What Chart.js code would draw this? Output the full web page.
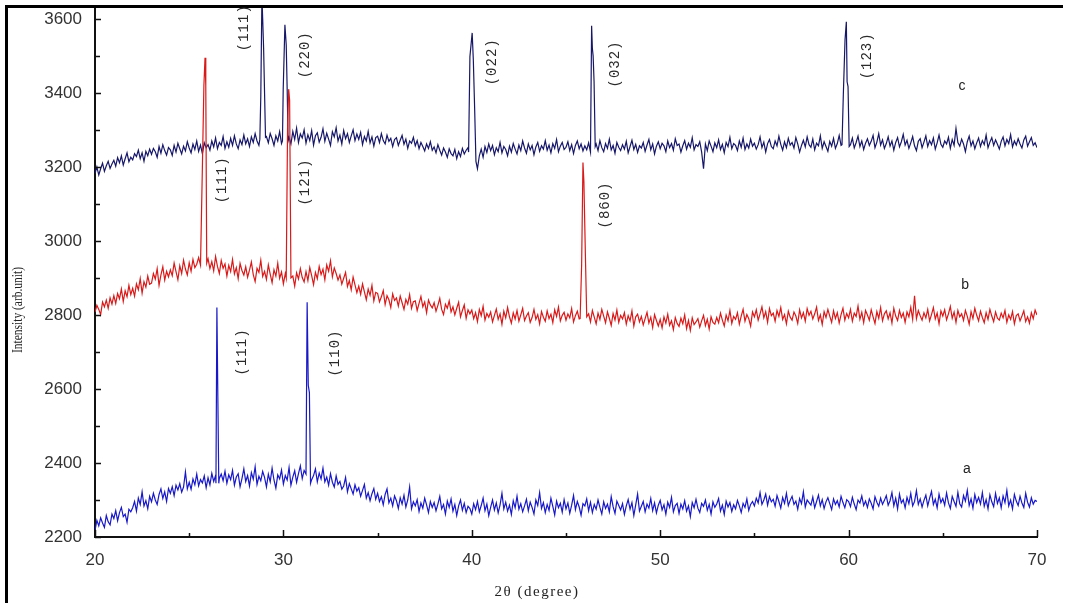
<!DOCTYPE html>
<html><head><meta charset="utf-8">
<script src="https://cdn.jsdelivr.net/npm/chart.js@4.4.0/dist/chart.umd.min.js"></script>
<style>html,body{margin:0;padding:0;background:#fff;overflow:hidden}canvas{display:block}</style>
</head><body>
<canvas id="c" width="1065" height="603"></canvas>
<script>
// 2θ scan grid (degrees)
const thetaStart = 20, thetaStep = 0.1;

// axis ticks
const xTicks = [20, 30, 40, 50, 60, 70];
const xMinorTicks = [25, 35, 45, 55, 65];
const yTicks = [2200, 2400, 2600, 2800, 3000, 3200, 3400, 3600];
const yMinorTicks = [2300, 2500, 2700, 2900, 3100, 3300, 3500];

// sample a (blue), one row per degree, 0.1° steps
const seriesA = [
2218,2245,2230,2252,2238,2226,2258,2241,2233,2262,
2250,2271,2244,2266,2280,2255,2262,2240,2275,2268,
2279,2296,2270,2305,2288,2322,2284,2298,2276,2310,
2295,2318,2300,2288,2315,2330,2304,2322,2296,2331,
2318,2336,2312,2340,2327,2344,2321,2335,2376,2330,
2348,2329,2357,2341,2370,2338,2355,2346,2365,2333,
2360,2341,2372,2350,2366,2348,2358,2370,2352,2378,
2345,2368,2355,2380,2340,2362,2371,2336,2358,2384,
2350,2366,2338,2374,2356,2390,2342,2364,2352,2377,
2361,2335,2370,2349,2386,2354,2332,2368,2357,2381,
2343,2366,2354,2388,2340,2362,2379,2348,2371,2392,
2358,2380,2365,2390,2372,2355,2366,2384,2349,2373,
2357,2386,2349,2362,2340,2371,2348,2335,2365,2342,
2350,2329,2338,2361,2322,2344,2330,2316,2341,2324,
2333,2310,2326,2342,2305,2320,2298,2317,2331,2302,
2318,2296,2309,2287,2315,2330,2292,2305,2284,2311,
2298,2277,2306,2289,2313,2281,2300,2335,2276,2295,
2284,2301,2269,2292,2278,2305,2287,2266,2296,2280,
2293,2271,2289,2310,2276,2288,2262,2297,2280,2303,
2270,2288,2258,2284,2300,2272,2291,2266,2283,2277,
2262,2290,2274,2296,2268,2285,2305,2271,2289,2258,
2280,2300,2273,2292,2265,2287,2318,2276,2294,2270,
2286,2261,2298,2279,2310,2275,2290,2268,2284,2302,
2271,2294,2280,2262,2300,2285,2320,2277,2293,2266,
2288,2272,2305,2283,2260,2297,2279,2291,2267,2301,
2276,2292,2264,2286,2312,2274,2296,2281,2259,2290,
2284,2303,2271,2294,2266,2288,2275,2300,2280,2262,
2295,2277,2289,2268,2309,2282,2264,2297,2285,2273,
2290,2261,2284,2301,2275,2293,2258,2287,2316,2270,
2283,2296,2268,2289,2278,2304,2271,2292,2265,2286,
2299,2273,2287,2262,2294,2280,2307,2268,2285,2291,
2264,2289,2276,2298,2270,2284,2255,2293,2279,2302,
2278,2266,2291,2283,2300,2272,2288,2262,2295,2280,
2289,2304,2270,2286,2261,2297,2281,2293,2269,2287,
2276,2299,2284,2266,2291,2280,2303,2272,2288,2296,
2284,2305,2292,2320,2288,2300,2316,2286,2309,2295,
2302,2283,2312,2296,2278,2307,2291,2318,2285,2299,
2310,2288,2297,2275,2304,2290,2322,2281,2300,2293,
2286,2308,2279,2296,2313,2284,2301,2277,2295,2306,
2290,2274,2303,2288,2298,2281,2310,2293,2279,2301,
2296,2282,2307,2289,2274,2300,2292,2311,2285,2297,
2280,2303,2291,2276,2309,2294,2283,2305,2288,2299,
2312,2286,2298,2320,2284,2305,2276,2316,2292,2301,
2279,2307,2290,2318,2284,2296,2325,2288,2303,2281,
2299,2313,2284,2305,2323,2288,2302,2279,2316,2293,
2304,2286,2319,2292,2277,2310,2296,2283,2321,2290,
2281,2312,2297,2326,2285,2303,2278,2315,2293,2307,
2289,2320,2283,2301,2276,2314,2295,2282,2318,2291,
2306,2279,2311,2293,2326,2284,2300,2276,2315,2297,
2285,2310,2292,2280,2318,2294,2281,2306,2289,2299,
2296];

// sample b (red)
const seriesB = [
2808,2826,2815,2801,2835,2822,2840,2818,2846,2829,
2852,2831,2858,2844,2870,2836,2865,2849,2880,2855,
2872,2851,2884,2868,2898,2859,2890,2875,2905,2883,
2886,2912,2897,2925,2880,2908,2930,2894,2918,2903,
2922,2906,2940,2917,2895,2933,2912,2948,2924,2908,
2941,2918,2950,2928,2937,2955,2925,2946,2933,2940,
2952,2925,2944,2919,2958,2931,2912,2947,2926,2938,
2905,2934,2917,2950,2911,2928,2898,2939,2920,2908,
2930,2902,2921,2943,2909,2890,2926,2915,2948,2904,
2918,2896,2935,2910,2887,2922,2905,2940,2899,2916,
2884,2912,2895,2920,2890,2905,2878,2914,2897,2925,
2901,2889,2917,2893,2928,2906,2882,2915,2898,2931,
2909,2924,2895,2935,2918,2946,2903,2927,2912,2894,
2908,2883,2899,2915,2877,2893,2868,2902,2881,2860,
2878,2856,2884,2862,2841,2870,2853,2880,2838,2861,
2858,2835,2849,2866,2828,2852,2841,2820,2857,2839,
2846,2824,2851,2833,2815,2842,2829,2855,2818,2836,
2838,2812,2831,2850,2822,2835,2806,2840,2827,2819,
2833,2810,2826,2845,2815,2801,2829,2818,2838,2808,
2822,2800,2818,2834,2795,2812,2827,2791,2814,2803,
2813,2790,2806,2782,2815,2798,2823,2786,2804,2794,
2808,2781,2799,2816,2788,2803,2775,2810,2792,2820,
2795,2778,2806,2789,2812,2783,2800,2818,2785,2797,
2806,2780,2793,2815,2788,2801,2776,2809,2794,2783,
2811,2790,2802,2779,2814,2796,2821,2784,2799,2807,
2786,2803,2792,2817,2781,2798,2810,2789,2800,2795,
2790,2800,2803,2781,2812,2794,2776,2805,2788,2815,
2797,2779,2808,2791,2772,2804,2786,2813,2780,2799,
2789,2806,2775,2798,2784,2811,2770,2795,2802,2781,
2796,2773,2790,2807,2778,2794,2766,2801,2785,2770,
2788,2765,2795,2778,2802,2772,2784,2760,2793,2777,
2769,2791,2776,2800,2763,2785,2758,2792,2774,2781,
2790,2767,2784,2799,2771,2788,2762,2795,2780,2775,
2793,2779,2805,2786,2770,2800,2784,2812,2777,2796,
2788,2806,2775,2797,2815,2783,2801,2790,2770,2808,
2795,2814,2786,2803,2822,2792,2809,2780,2817,2798,
2805,2783,2812,2796,2820,2788,2801,2776,2810,2794,
2786,2808,2797,2777,2814,2792,2806,2783,2817,2799,
2810,2789,2803,2821,2785,2800,2774,2809,2793,2815,
2797,2780,2811,2790,2806,2778,2801,2818,2786,2804,
2792,2815,2783,2805,2796,2824,2788,2807,2779,2812,
2800,2786,2814,2795,2777,2809,2791,2820,2784,2803,
2811,2789,2806,2778,2818,2797,2785,2812,2793,2805,
2780,2808,2795,2821,2788,2852,2790,2812,2798,2786,
2806,2792,2815,2784,2801,2820,2789,2805,2776,2811,
2797,2814,2787,2803,2823,2791,2808,2780,2812,2795,
2803,2785,2812,2796,2775,2809,2790,2818,2799,2784,
2810,2793,2779,2806,2788,2815,2797,2782,2808,2791,
2786,2805,2792,2812,2780,2800,2788,2809,2776,2798,
2803,2784,2797,2811,2782,2795,2778,2806,2790,2813,
2800];

// sample c (navy)
const seriesC = [
3182,3200,3178,3195,3210,3188,3203,3215,3196,3208,
3218,3202,3225,3211,3230,3205,3222,3238,3214,3226,
3219,3236,3228,3245,3222,3238,3215,3242,3230,3248,
3234,3250,3241,3226,3255,3237,3260,3244,3232,3252,
3246,3231,3258,3240,3264,3249,3235,3256,3243,3268,
3251,3238,3262,3247,3270,3242,3259,3236,3265,3252,
3260,3245,3270,3254,3278,3249,3266,3258,3282,3250,
3268,3253,3277,3258,3284,3262,3249,3273,3260,3286,
3262,3276,3255,3281,3266,3290,3270,3258,3275,3280,
3270,3282,3265,3290,3276,3258,3284,3270,3295,3263,
3277,3288,3268,3280,3262,3296,3274,3305,3266,3289,
3278,3300,3264,3287,3271,3298,3259,3284,3292,3267,
3280,3303,3269,3291,3275,3258,3295,3281,3306,3270,
3286,3262,3298,3276,3290,3266,3284,3300,3271,3289,
3274,3293,3260,3282,3270,3296,3265,3281,3256,3279,
3283,3266,3290,3271,3262,3286,3269,3277,3255,3274,
3279,3258,3272,3285,3261,3275,3250,3270,3264,3280,
3257,3271,3249,3266,3255,3243,3262,3250,3268,3245,
3254,3238,3260,3245,3232,3251,3240,3226,3249,3236,
3230,3247,3222,3241,3228,3250,3235,3245,3252,3240,
3240,3245,3250,3235,3230,3248,3226,3255,3239,3262,
3244,3258,3233,3252,3241,3266,3238,3255,3247,3230,
3256,3240,3263,3248,3235,3259,3244,3270,3251,3237,
3262,3246,3258,3233,3254,3266,3242,3257,3248,3271,
3245,3259,3238,3263,3250,3274,3241,3256,3266,3247,
3253,3268,3244,3260,3236,3258,3270,3249,3262,3243,
3257,3246,3265,3240,3250,3245,3262,3244,3271,3252,
3241,3263,3250,3275,3246,3258,3237,3266,3253,3244,
3260,3248,3269,3238,3255,3272,3247,3261,3239,3257,
3251,3266,3242,3259,3274,3246,3262,3235,3256,3268,
3249,3264,3257,3241,3270,3252,3263,3245,3276,3258,
3262,3240,3257,3271,3248,3264,3253,3279,3246,3260,
3255,3268,3240,3195,3262,3244,3270,3256,3241,3265,
3252,3273,3247,3261,3238,3266,3255,3280,3249,3263,
3258,3244,3270,3253,3278,3247,3262,3251,3275,3256,
3264,3248,3260,3281,3252,3267,3240,3263,3274,3255,
3249,3270,3257,3283,3261,3245,3268,3252,3277,3259,
3266,3251,3279,3262,3240,3258,3272,3254,3281,3260,
3253,3275,3246,3264,3257,3284,3250,3268,3255,3242,
3269,3256,3277,3250,3263,3285,3258,3266,3262,3270,
3262,3260,3278,3251,3266,3283,3255,3270,3247,3264,
3276,3258,3269,3285,3252,3267,3290,3259,3273,3250,
3263,3281,3256,3270,3245,3266,3279,3254,3268,3288,
3259,3272,3250,3265,3282,3257,3244,3269,3276,3252,
3267,3284,3255,3271,3260,3278,3248,3265,3286,3261,
3253,3270,3262,3280,3250,3274,3258,3304,3266,3256,
3275,3262,3241,3268,3283,3257,3270,3249,3265,3278,
3255,3271,3260,3286,3252,3267,3279,3258,3273,3261,
3248,3269,3281,3257,3274,3263,3287,3254,3270,3259,
3276,3262,3251,3273,3283,3256,3268,3279,3258,3265,
3252];

// diffraction peaks: [2θ, intensity] samples across each peak
const peaksA = [
  [[26.42,2345],[26.47,2820],[26.52,2580],[26.57,2345]],
  [[31.2,2370],[31.26,2834],[31.32,2610],[31.38,2590],[31.44,2345]]
];
const peaksB = [
  [[25.6,2935],[25.7,3200],[25.78,3420],[25.84,3495],[25.88,3420],[25.93,2940]],
  [[30.15,2900],[30.22,3300],[30.28,3410],[30.33,3380],[30.4,2900]],
  [[45.75,2790],[45.83,2935],[45.9,3212],[45.95,3160],[46.03,2960],[46.1,2795]]
];
const peaksC = [
  [[28.75,3275],[28.8,3390],[28.86,3660],[28.9,3600],[28.95,3520],[29.0,3400],[29.05,3280]],
  [[29.95,3270],[29.99,3410],[30.08,3584],[30.15,3530],[30.2,3410],[30.25,3270]],
  [[39.83,3240],[39.9,3498],[40.02,3562],[40.08,3490],[40.15,3360],[40.22,3215],[40.3,3195]],
  [[46.3,3240],[46.36,3581],[46.4,3520],[46.44,3500],[46.49,3430],[46.55,3255]],
  [[59.65,3260],[59.72,3395],[59.81,3543],[59.88,3592],[59.92,3430],[59.97,3417],[60.03,3255]]
];

// peak labels (Miller indices) and sample letters
const peakLabelText = ['(111)','(220)','(022)','(032)','(123)','(111)','(121)','(860)','(111)','(110)'];
const peakLabelTheta = [27.91, 31.15, 41.07, 47.60, 60.98, 26.74, 31.15, 47.07, 27.80, 32.74];
const peakLabelIntensity = [3576, 3503, 3484, 3478, 3500, 3165, 3159, 3097, 2700, 2697];
const sampleNames = ['a','b','c'];
const sampleLabelTheta = [66.28, 66.18, 66.02];
const sampleLabelIntensity = [2384, 2881, 3419];

function buildSeries(values, peaks) {
  const out = [];
  values.forEach((v, i) => {
    const x = Math.round((thetaStart + i * thetaStep) * 1000) / 1000;
    if (peaks.some(p => x >= p[0][0] - 1e-9 && x <= p[p.length - 1][0] + 1e-9)) return;
    out.push({x: x, y: v});
  });
  peaks.forEach(p => p.forEach(([x, y]) => out.push({x: x, y: y})));
  out.sort((a, b) => a.x - b.x);
  return out;
}

const decor = {
  id: 'decor',
  afterDraw(chart) {
    const ctx = chart.ctx;
    const xs = chart.scales.x, ys = chart.scales.y;
    const ca = chart.chartArea;
    ctx.save();
    // frame (top & left)
    ctx.strokeStyle = '#000';
    ctx.lineWidth = 3;
    ctx.beginPath();
    ctx.moveTo(5, 6.5); ctx.lineTo(1063, 6.5);
    ctx.moveTo(6.5, 5); ctx.lineTo(6.5, 603);
    ctx.stroke();
    // inward tick marks
    ctx.lineWidth = 1.5;
    ctx.strokeStyle = '#111';
    ctx.beginPath();
    yTicks.forEach(v => { const p = Math.round(ys.getPixelForValue(v)) + 0.5; ctx.moveTo(ca.left, p); ctx.lineTo(ca.left + 6, p); });
    yMinorTicks.forEach(v => { const p = Math.round(ys.getPixelForValue(v)) + 0.5; ctx.moveTo(ca.left, p); ctx.lineTo(ca.left + 5, p); });
    xTicks.forEach(v => { const p = Math.round(xs.getPixelForValue(v)) + 0.5; ctx.moveTo(p, ca.bottom); ctx.lineTo(p, ca.bottom - 7); });
    xMinorTicks.forEach(v => { const p = Math.round(xs.getPixelForValue(v)) + 0.5; ctx.moveTo(p, ca.bottom); ctx.lineTo(p, ca.bottom - 4); });
    ctx.stroke();
    // axis titles
    ctx.fillStyle = '#222';
    ctx.textAlign = 'center';
    ctx.textBaseline = 'middle';
    ctx.font = '14px "Liberation Serif", serif';
    ctx.save();
    ctx.translate(18, 310);
    ctx.rotate(-Math.PI / 2);
    ctx.scale(0.82, 1);
    ctx.fillText('Intensity (arb.unit)', 0, 0);
    ctx.restore();
    ctx.font = '15px "Liberation Serif", serif';
    ctx.letterSpacing = '1.5px';
    ctx.fillText('2θ (degree)', 537, 592);
    // peak labels
    ctx.font = '14px "Liberation Mono", monospace';
    ctx.letterSpacing = '1px';
    ctx.fillStyle = '#2a2a2a';
    peakLabelText.forEach((t, i) => {
      const px = xs.getPixelForValue(peakLabelTheta[i]);
      const py = ys.getPixelForValue(peakLabelIntensity[i]);
      ctx.save();
      ctx.translate(px, py);
      ctx.rotate(-Math.PI / 2);
      ctx.fillText(t, 0, 0);
      ctx.restore();
    });
    // sample letters
    ctx.letterSpacing = '0px';
    ctx.font = '14px "Liberation Sans", sans-serif';
    ctx.fillStyle = '#222';
    sampleNames.forEach((n, i) => {
      ctx.fillText(n, xs.getPixelForValue(sampleLabelTheta[i]), ys.getPixelForValue(sampleLabelIntensity[i]));
    });
    ctx.restore();
  }
};

const tickFont = {family: '"Liberation Sans", sans-serif', size: 17};

new Chart(document.getElementById('c'), {
  type: 'line',
  data: {
    datasets: [
      {label: 'a', data: buildSeries(seriesA, peaksA), borderColor: '#1818c8', borderWidth: 1.2},
      {label: 'b', data: buildSeries(seriesB, peaksB), borderColor: '#d81a1a', borderWidth: 1.2},
      {label: 'c', data: buildSeries(seriesC, peaksC), borderColor: '#17176a', borderWidth: 1.2}
    ]
  },
  options: {
    responsive: false,
    animation: false,
    devicePixelRatio: 1,
    layout: {padding: {left: 0, right: 28, top: 7, bottom: 0}},
    elements: {point: {radius: 0}, line: {tension: 0}},
    plugins: {legend: {display: false}, tooltip: {enabled: false}},
    scales: {
      x: {
        type: 'linear', min: 20, max: 70,
        afterBuildTicks: s => { s.ticks = xTicks.map(v => ({value: v})); },
        afterFit: s => { s.height = 66; s.paddingLeft = 0; s.paddingRight = 0; },
        grid: {display: false},
        border: {display: true, color: '#111', width: 2},
        ticks: {font: tickFont, color: '#333', padding: 5, maxRotation: 0, autoSkip: false, callback: v => String(v)}
      },
      y: {
        type: 'linear', min: 2200, max: 3632,
        afterBuildTicks: s => { s.ticks = yTicks.map(v => ({value: v})); },
        afterFit: s => { s.width = 95; s.paddingTop = 0; s.paddingBottom = 0; },
        grid: {display: false},
        border: {display: true, color: '#111', width: 2},
        ticks: {font: tickFont, color: '#333', padding: 5, autoSkip: false, callback: v => String(v)}
      }
    }
  },
  plugins: [decor]
});
</script>
</body></html>
